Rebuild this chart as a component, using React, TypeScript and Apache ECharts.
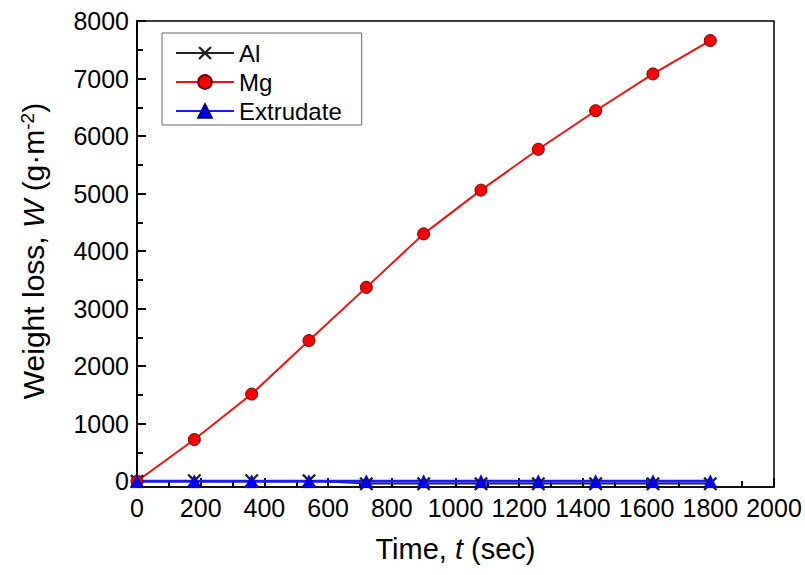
import React, { useEffect, useRef } from "react";
import * as echarts from "echarts";

// Immersion time (s)
const times = [0, 180, 360, 540, 720, 900, 1080, 1260, 1440, 1620, 1800];
// Weight loss (g·m^-2)
const alLoss = [0, 10, 10, 10, -45, -45, -45, -45, -45, -45, -45];
const mgLoss = [0, 725, 1515, 2445, 3370, 4300, 5060, 5770, 6440, 7080, 7660];
const extrudateLoss = [0, 0, 0, 0, 0, 0, 0, 0, 0, 0, 0];

const xTicks = { min: 0, max: 2000, step: 200 };
const yTicks = { min: 0, max: 8000, step: 1000 };

const FONT = "Liberation Sans, Arial, sans-serif";
const CROSS = "path://M0,1.2L1.2,0L5,3.8L8.8,0L10,1.2L6.2,5L10,8.8L8.8,10L5,6.2L1.2,10L0,8.8L3.8,5Z";

const pairs = (ys: number[]) => times.map((t, i) => [t, ys[i]]);
const plain = (v: number) => String(v);

export default function App() {
  const ref = useRef<HTMLDivElement>(null);

  useEffect(() => {
    if (!ref.current) return;
    const chart = echarts.init(ref.current, undefined, { renderer: "svg" });

    const gridBox = { left: 137, right: 31, top: 21 };
    const tickLine = { color: "#000", width: 2 };

    chart.setOption({
      animation: false,
      backgroundColor: "#fff",
      grid: [
        { ...gridBox, bottom: 88, show: true, borderColor: "#000", borderWidth: 1.5 },
        { ...gridBox, bottom: 94, show: false },
      ],
      legend: {
        orient: "vertical",
        left: 162,
        top: 33,
        padding: [8, 20, 2, 13],
        itemGap: 5,
        itemWidth: 58,
        itemHeight: 17,
        borderColor: "#666",
        borderWidth: 1,
        backgroundColor: "#fff",
        textStyle: { fontFamily: FONT, fontSize: 24, color: "#000" },
        data: ["Al", "Mg", "Extrudate"],
      },
      xAxis: [
        {
          type: "value",
          gridIndex: 0,
          min: xTicks.min,
          max: xTicks.max,
          interval: xTicks.step,
          axisLine: { show: true, onZero: false, lineStyle: { color: "#000", width: 1.5 } },
          axisTick: { show: true, inside: true, length: 9, lineStyle: tickLine },
          minorTick: { show: true, splitNumber: 2, length: 6, lineStyle: tickLine },
          splitLine: { show: false },
          axisLabel: { fontFamily: FONT, fontSize: 25, color: "#000", margin: 8, formatter: plain },
          name: "Time, {i|t} (sec)",
          nameLocation: "middle",
          nameGap: 47,
          nameTextStyle: {
            fontFamily: FONT,
            fontSize: 29,
            color: "#000",
            rich: { i: { fontFamily: FONT, fontSize: 29, fontStyle: "italic", color: "#000" } },
          },
        },
        { type: "value", gridIndex: 1, min: 0, max: 1, show: false },
      ],
      yAxis: [
        {
          type: "value",
          gridIndex: 0,
          min: -100,
          max: yTicks.max,
          axisLine: { show: true, onZero: false, lineStyle: { color: "#000", width: 1.5 } },
          axisTick: { show: false },
          axisLabel: { show: false },
          splitLine: { show: false },
        },
        {
          type: "value",
          gridIndex: 1,
          min: yTicks.min,
          max: yTicks.max,
          interval: yTicks.step,
          axisLine: { show: true, onZero: false, lineStyle: { color: "#000", width: 1.5 } },
          axisTick: { show: true, inside: true, length: 9, lineStyle: tickLine },
          minorTick: { show: true, splitNumber: 2, length: 6, lineStyle: tickLine },
          splitLine: { show: false },
          axisLabel: { fontFamily: FONT, fontSize: 25, color: "#000", margin: 8, formatter: plain },
          name: "Weight loss, {i|W} (g·m{s|-2})",
          nameLocation: "middle",
          nameGap: 88,
          nameTextStyle: {
            fontFamily: FONT,
            fontSize: 30,
            color: "#000",
            rich: {
              i: { fontFamily: FONT, fontSize: 30, fontStyle: "italic", color: "#000" },
              s: { fontFamily: FONT, fontSize: 19, color: "#000", verticalAlign: "top", padding: [0, 0, 12, 0] },
            },
          },
        },
      ],
      series: [
        {
          name: "Al",
          type: "line",
          xAxisIndex: 0,
          yAxisIndex: 0,
          data: pairs(alLoss),
          symbol: CROSS,
          symbolSize: 14,
          lineStyle: { color: "#222", width: 1.5 },
          itemStyle: { color: "#222" },
        },
        {
          name: "Mg",
          type: "line",
          xAxisIndex: 0,
          yAxisIndex: 0,
          data: pairs(mgLoss),
          symbol: "circle",
          symbolSize: 12,
          lineStyle: { color: "#f01010", width: 2 },
          itemStyle: { color: "#ff0000", borderColor: "#6a0000", borderWidth: 1 },
        },
        {
          name: "Extrudate",
          type: "line",
          xAxisIndex: 0,
          yAxisIndex: 0,
          data: pairs(extrudateLoss),
          symbol: "triangle",
          symbolSize: 13,
          lineStyle: { color: "#1a1aff", width: 3 },
          itemStyle: { color: "#0000ee", borderColor: "#00008a", borderWidth: 0.5 },
        },
      ],
    });

    return () => chart.dispose();
  }, []);

  return <div ref={ref} style={{ width: 805, height: 575, position: "absolute", left: 0, top: 0 }} />;
}
